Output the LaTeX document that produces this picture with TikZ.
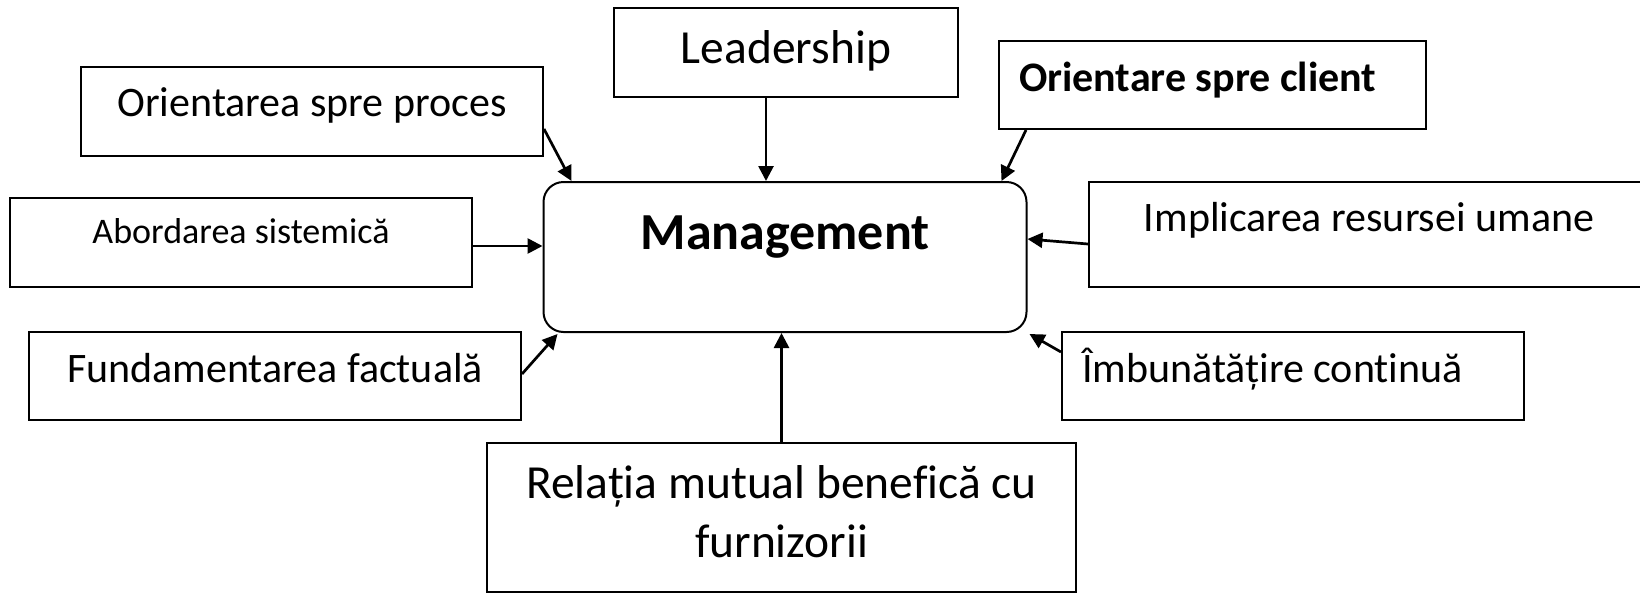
\documentclass[tikz,border=0pt]{standalone}
\usepackage{fontspec}
\setmainfont{Carlito}[Ligatures=CommonOff]
\usetikzlibrary{arrows.meta}

\newcommand{\boxfont}[2]{\fontsize{#1pt}{#2pt}\selectfont}

\tikzset{
	box/.style={draw, line width=2pt, inner sep=0pt, anchor=north west},
	arr/.style={-{Triangle[length=15pt,width=15pt]}, line width=2.7pt},
}

\begin{document}
\begin{tikzpicture}[x=1pt, y=-1pt]
		\useasboundingbox (0,0) rectangle (1640,592);
		\clip (0,0) rectangle (1640,592);
		
		\node [box, rounded corners=20pt, minimum width=483pt, text height=67pt, text depth=83pt, font=\bfseries\boxfont{52}{63}] (mgmt) at (542.5,181) {Management}; % Mitten
		
		\node [box, minimum width=344pt, text height=55pt, text depth=34pt, font=\boxfont{47.5}{58}] (lead) at (613,7) {Leadership};
		\node [box, minimum width=462pt, text height=49pt, text depth=40pt, font=\boxfont{42}{51}] (proc) at (80,66) {Orientarea spre proces};
		\node [box, inner xsep=20pt, text width=387pt, align=flush left, text height=50pt, text depth=38pt, font=\bfseries\boxfont{42}{51}] (client) at (998,40) {Orientare spre client};
		\node [box, minimum width=462pt, text height=45pt, text depth=44pt, font=\boxfont{36}{44}] (abord) at (9,197) {Abordarea sistemică};
		\node [box, minimum width=560pt, text height=49pt, text depth=56pt, font=\boxfont{42}{51}] (impl) at (1088,181) {Implicarea resursei umane};
		\node [box, minimum width=492pt, text height=50pt, text depth=38pt, font=\boxfont{42}{51}] (fund) at (28,331) {Fundamentarea factuală};
		\node [box, inner xsep=20pt, text width=422pt, align=flush left, text height=50pt, text depth=38pt, font=\boxfont{42}{51}] (imbun) at (1061,331) {Îmbunătățire continuă};
		\node [box, text width=589pt, align=flush center, text height=55pt, text depth=94pt, font=\boxfont{47.5}{59}] (rel) at (486,442) {Relația mutual benefică cu\\furnizorii};
		
		\coordinate (leadout) at ([xshift=-20pt]lead.south);
		\coordinate (abordout) at ([yshift=-3.5pt]abord.east);
		
		\draw [arr] (leadout) -- (leadout |- mgmt.north); % Pilar
		\draw [arr] ([yshift=-17.5pt]proc.east) -- ([xshift=29pt]mgmt.north west);
		\draw [arr] ([xshift=28pt]client.south west) -- ([xshift=-26pt]mgmt.north east);
		\draw [arr] (abordout) -- (abordout -| mgmt.west);
		\draw [arr] ([yshift=-9.5pt]impl.west) -- ([yshift=18pt]mgmt.east);
		\draw [arr] ([yshift=2pt]fund.east) -- ([xshift=15pt,yshift=-1pt]mgmt.south west);
		\draw [arr] ([yshift=24pt]imbun.west) -- ([xshift=2pt,yshift=-1pt]mgmt.south east);
		\draw [arr] (rel.north) -- (rel.north |- mgmt.south);
	\end{tikzpicture}
\end{document}
